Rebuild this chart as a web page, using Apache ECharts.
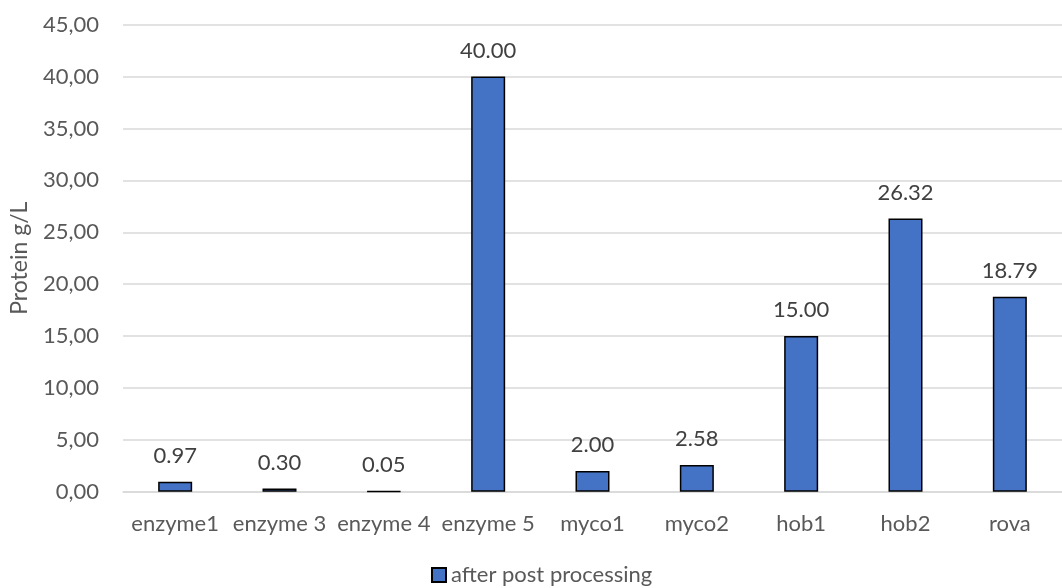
<!DOCTYPE html>
<html>
<head>
<meta charset="utf-8">
<script src="https://cdn.jsdelivr.net/npm/echarts@6/dist/echarts.min.js"></script>
<style>
  html, body { margin: 0; padding: 0; background: #fff; }
  #chart { width: 1062px; height: 588px; }
</style>
</head>
<body>
<div id="chart"></div>
<script>
// Protein concentration per sample after post processing
const categories = ['enzyme1', 'enzyme 3', 'enzyme 4', 'enzyme 5', 'myco1', 'myco2', 'hob1', 'hob2', 'rova'];
const proteinValues = [0.97, 0.30, 0.05, 40.00, 2.00, 2.58, 15.00, 26.32, 18.79];
const seriesName = 'after post processing';
const yAxisTitle = 'Protein g/L';
const yMin = 0, yMax = 45, yStep = 5;

const FONT = 'Lato';
const TEXT = '#595959';

const chart = echarts.init(document.getElementById('chart'), null, { renderer: 'canvas' });
chart.setOption({
  animation: false,
  backgroundColor: '#ffffff',
  grid: { left: 122.6, top: 24.7, width: 951.5, height: 467, containLabel: false },
  legend: {
    data: [seriesName],
    left: 426,
    top: 559,
    padding: 5,
    itemWidth: 14,
    itemHeight: 14,
    textStyle: { fontFamily: FONT, fontSize: 22, color: TEXT },
    icon: 'rect'
  },
  xAxis: {
    type: 'category',
    data: categories,
    axisLine: { show: true, lineStyle: { color: '#d9d9d9', width: 1.5 } },
    axisTick: { show: false },
    axisLabel: { fontFamily: FONT, fontSize: 22, color: TEXT, margin: 21, interval: 0 }
  },
  yAxis: {
    type: 'value',
    min: yMin,
    max: yMax,
    interval: yStep,
    name: yAxisTitle,
    nameLocation: 'middle',
    nameGap: 92,
    nameTextStyle: { fontFamily: FONT, fontSize: 23, color: TEXT },
    axisLine: { show: false },
    axisTick: { show: false },
    axisLabel: {
      fontFamily: FONT, fontSize: 22, color: TEXT, margin: 24,
      formatter: v => v.toFixed(2).replace('.', ',')
    },
    splitLine: { lineStyle: { color: '#d9d9d9', width: 1.5 } }
  },
  series: [{
    name: seriesName,
    type: 'bar',
    data: proteinValues,
    barWidth: 34,
    itemStyle: { color: '#4472C4', borderColor: '#000000', borderWidth: 1.5 },
    label: {
      show: true,
      position: 'top',
      distance: 15,
      fontFamily: FONT,
      fontSize: 22,
      color: '#404040',
      formatter: p => p.value.toFixed(2)
    }
  }]
});
</script>
</body>
</html>
